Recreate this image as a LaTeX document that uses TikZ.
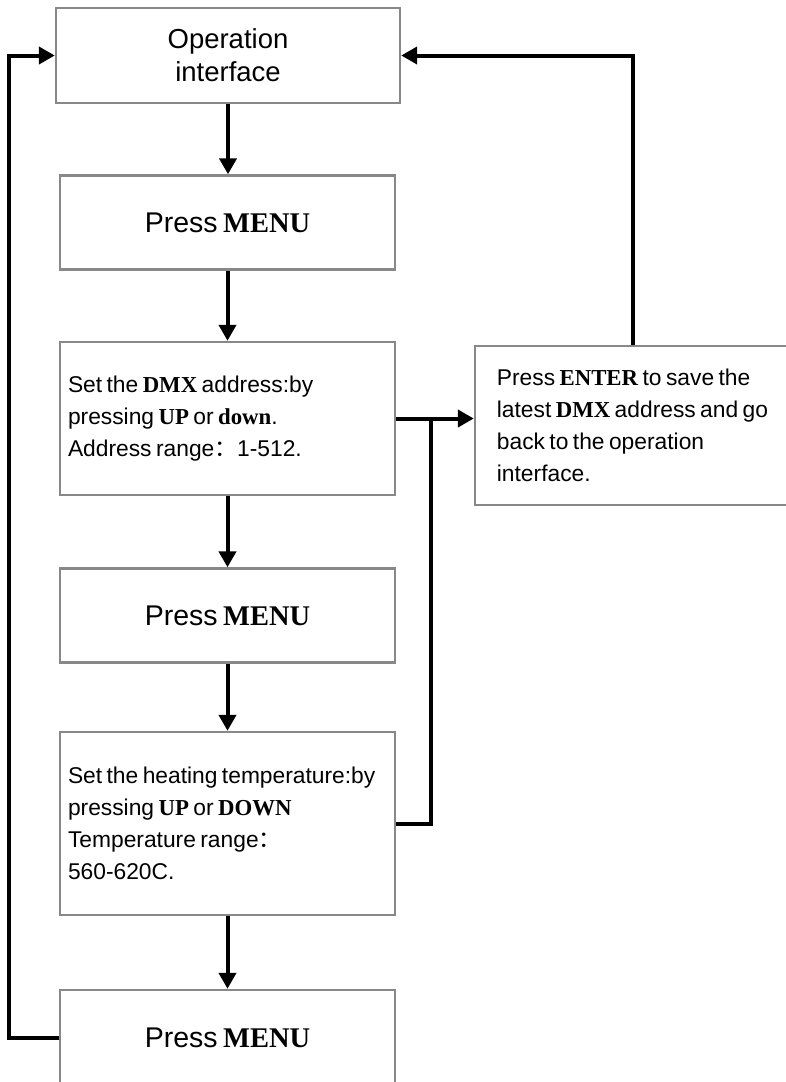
\documentclass[tikz,border=0pt]{standalone}
\usepackage{fontspec}
\setmainfont[WordSpace=0.7]{Liberation Sans}
\newfontfamily\tnrfont{Liberation Serif}
\newfontfamily\cjkfont{Noto Sans CJK SC}
\usepackage{xcolor}
\usetikzlibrary{arrows.meta, positioning, calc}
\definecolor{boxgray}{RGB}{136,136,136}
\newcommand{\kw}[1]{{\tnrfont\bfseries #1}}
\newcommand{\fwcolon}{{\cjkfont ：}}

\begin{document}
\begin{tikzpicture}[x=1pt, y=-1pt,
    box/.style={draw=boxgray, line width=2.4pt, minimum width=335pt, minimum height=94pt,
        align=center, font=\fontsize{28.5}{33}\selectfont},
    note/.style={draw=boxgray, line width=2.4pt, inner xsep=8pt, text width=319pt,
        align=flush left, font=\fontsize{22.8}{32}\selectfont},
    flow/.style={line width=4pt, -{Triangle[length=16pt,width=17pt]}},
    link/.style={line width=4pt}]
\useasboundingbox (0,0) rectangle (786,1082);
% Main column
\node[box, minimum width=344pt, minimum height=95pt, font=\fontsize{27.5}{33}\selectfont] (op) at (228,55.5) {Operation\\interface};
\node[box] (menuA) at (227.5,222.5) {Press \kw{MENU}};
\node[note, minimum height=153pt] (dmx) at (227.5,418.5)
    {Set the \kw{DMX} address:by\\pressing \kw{UP} or \kw{down}.\\Address range\fwcolon 1-512.};
\node[box] (menuB) at (227.5,615.5) {Press \kw{MENU}};
\node[note, minimum height=183pt] (heat) at (227.5,823.5)
    {Set the heating temperature:by\\pressing \kw{UP} or \kw{DOWN}\\Temperature range\fwcolon\\560-620C.};
\node[box, minimum height=95pt] (menuC) at (227.5,1037.5) {Press \kw{MENU}};
% Save box
\node[draw=boxgray, line width=2.4pt, minimum width=315pt, minimum height=159pt,
    align=left, font=\fontsize{22.8}{32}\selectfont] (enter) at (632.5,425.5)
    {Press \kw{ENTER} to save the\\latest \kw{DMX} address and go\\back to the operation\\interface.};
% Down arrows
\draw[flow] (op.south) -- (op.south |- menuA.north);
\draw[flow] (menuA.south) -- (dmx.north);
\draw[flow] (dmx.south) -- (menuB.north);
\draw[flow] (menuB.south) -- (heat.north);
\draw[flow] (heat.south) -- (menuC.north);
% Side links
\draw[flow] (dmx.east) -- (dmx.east -| enter.west);
\draw[link] (heat.east) -- ++(35,0) |- (dmx.east);
\draw[flow] (enter.north) |- (op.east);
\draw[flow] (menuC.west) -- ++(-50,0) |- (op.west);
\end{tikzpicture}
\end{document}
